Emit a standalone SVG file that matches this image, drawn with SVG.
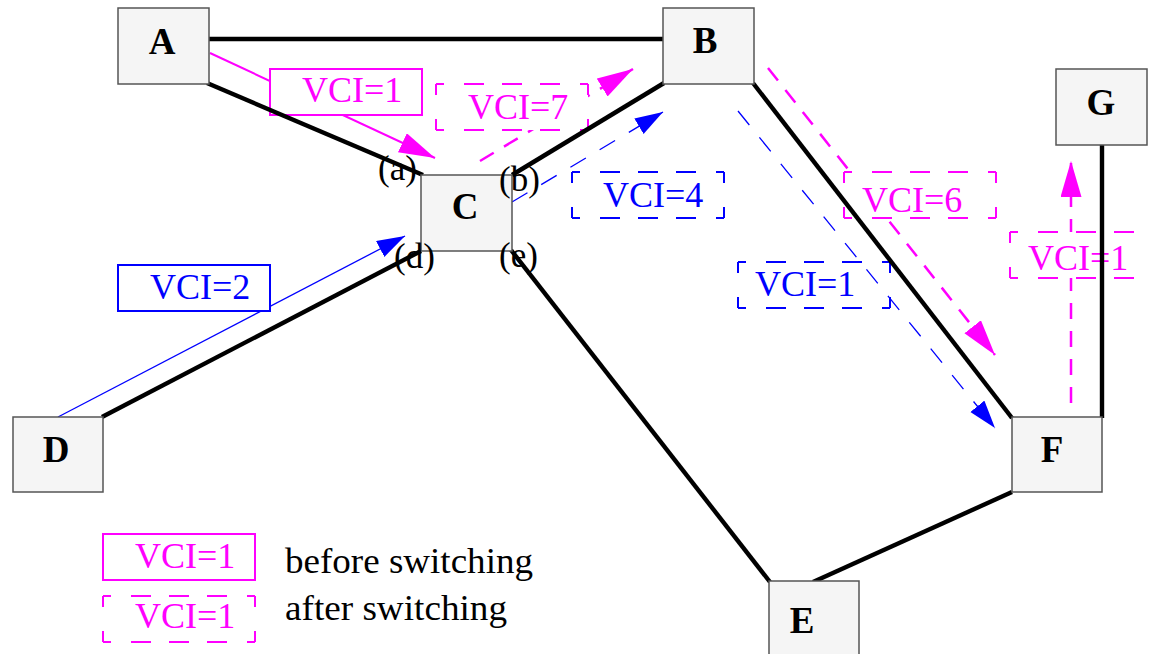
<svg xmlns="http://www.w3.org/2000/svg" xmlns:xlink="http://www.w3.org/1999/xlink" width="1153" height="654" viewBox="0 0 1153 654">
  <style>
    .node rect { fill: #f5f5f5; stroke: #555555; stroke-width: 1.5; }
    .node text { font-family: "Liberation Serif", "Times New Roman", serif; font-weight: bold; font-size: 37px; fill: #000; text-anchor: middle; }
    .link { fill: none; stroke: #000; stroke-width: 4.4; }
    .port { font-family: "Liberation Serif", "Times New Roman", serif; font-size: 35px; fill: #000; }
    .mag-solid { fill: none; stroke: #ff00ff; stroke-width: 2; marker-end: url(#ahMag); }
    .mag-dash { fill: none; stroke: #ff00ff; stroke-width: 2.5; stroke-dasharray: 16 12; marker-end: url(#ahMag); }
    .blue-solid { fill: none; stroke: #0000ff; stroke-width: 1.3; marker-end: url(#ahBlue); }
    .blue-dash { fill: none; stroke: #0000ff; stroke-width: 1.3; stroke-dasharray: 18 16; marker-end: url(#ahBlue); }
    .vci { font-family: "Liberation Serif", "Times New Roman", serif; font-size: 36px; }
    .mag { stroke: #ff00ff; fill: #ff00ff; }
    .blu { stroke: #0000ff; fill: #0000ff; }
    .box-solid { fill: #fff; stroke-width: 2; }
    .box-h { fill: none; stroke-width: 2; stroke-dasharray: 8 20 20 18 20 18 20 20 8 100; }
    .box-v { fill: none; stroke-width: 2; stroke-dasharray: 11 24 11 100; }
    .legend { font-family: "Liberation Serif", "Times New Roman", serif; font-size: 36px; fill: #000; }
  </style>
  <defs>
    <marker id="ahMag" markerUnits="userSpaceOnUse" markerWidth="40" markerHeight="24" refX="36" refY="10.5" orient="auto">
      <path d="M0,0 L36,10.5 L0,21 Z" fill="#ff00ff"/>
    </marker>
    <marker id="ahBlue" markerUnits="userSpaceOnUse" markerWidth="32" markerHeight="20" refX="28" refY="9" orient="auto">
      <path d="M0,0 L28,9 L0,18 Z" fill="#0000ff"/>
    </marker>
    <!-- dashed label frame, 152 x 46, corners carry a dash -->
    <g id="dashFrame">
      <rect width="152" height="46" fill="#fff" stroke="none"/>
      <path class="box-h" d="M0,0 H152 M0,46 H152"/>
      <path class="box-v" d="M0,0 V46 M152,0 V46"/>
    </g>
    <g id="dashFrameOpen">
      <path class="box-h" d="M0,0 H152 M0,46 H152"/>
      <path class="box-v" d="M0,0 V46 M152,0 V46"/>
    </g>
  </defs>

  <rect width="1153" height="654" fill="#fff"/>

  <!-- virtual circuit flows -->
  <g id="flows">
    <path class="mag-solid" d="M210,53 L435,158"/>
    <path class="mag-dash" d="M480,161 L633,69"/>
    <path class="blue-dash" d="M512,202 L663,112"/>
    <path class="blue-solid" d="M58,417 L405,236"/>
    <path class="mag-dash" d="M768,68 L995,355"/>
    <path class="blue-dash" d="M738,111 L995,428"/>
    <path class="mag-dash" d="M1071,403 L1071,161"/>
  </g>

  <!-- VCI labels -->
  <g id="vci-labels">
    <g id="vci-a">
      <rect class="box-solid mag" x="270" y="69" width="152" height="46" style="fill:#fff"/>
      <text class="vci" x="302" y="102" fill="#ff00ff">VCI=1</text>
    </g>
    <g id="vci-b-out">
      <use xlink:href="#dashFrame" x="436" y="84" stroke="#ff00ff"/>
      <text class="vci" x="468" y="119" fill="#ff00ff">VCI=7</text>
    </g>
    <g id="vci-b-blue">
      <use xlink:href="#dashFrame" x="572" y="172" stroke="#0000ff"/>
      <text class="vci" x="603" y="207" fill="#0000ff">VCI=4</text>
    </g>
    <g id="vci-d">
      <rect class="box-solid blu" x="118" y="265" width="152" height="46" style="fill:#fff"/>
      <text class="vci" x="150" y="299" fill="#0000ff">VCI=2</text>
    </g>
    <g id="vci-f-mag">
      <use xlink:href="#dashFrame" x="844" y="172" stroke="#ff00ff"/>
      <text class="vci" x="862" y="212" fill="#ff00ff">VCI=6</text>
    </g>
    <g id="vci-g">
      <use xlink:href="#dashFrame" x="1010" y="232" stroke="#ff00ff"/>
      <text class="vci" x="1028" y="270" fill="#ff00ff">VCI=1</text>
    </g>
    <g id="vci-f-blue">
      <use xlink:href="#dashFrameOpen" x="738" y="262" stroke="#0000ff"/>
      <text class="vci" x="755" y="296" fill="#0000ff">VCI=1</text>
    </g>
  </g>

  <!-- physical links -->
  <g id="connectors">
    <path class="link" d="M207,39 H665"/>
    <path class="link" d="M207,83 L423,175"/>
    <path class="link" d="M512,175 L664,83"/>
    <path class="link" d="M753,83 L1012,418"/>
    <path class="link" d="M1102,145 V418"/>
    <path class="link" d="M102,417 L421,251"/>
    <path class="link" d="M511,250 L770,582"/>
    <path class="link" d="M813,582 L1012,492"/>
  </g>

  <!-- switches / hosts -->
  <g id="node-A" class="node"><rect x="118" y="8" width="91" height="76"/><text x="162" y="54">A</text></g>
  <g id="node-B" class="node"><rect x="663" y="8" width="91" height="76"/><text x="705" y="53">B</text></g>
  <g id="node-C" class="node"><rect x="421" y="175" width="91" height="76"/><text x="465" y="219">C</text></g>
  <g id="node-D" class="node"><rect x="13" y="417" width="90" height="75"/><text x="56" y="462">D</text></g>
  <g id="node-E" class="node"><rect x="769" y="581" width="90" height="76"/><text x="802" y="633">E</text></g>
  <g id="node-F" class="node"><rect x="1012" y="417" width="90" height="75"/><text x="1052" y="462">F</text></g>
  <g id="node-G" class="node"><rect x="1056" y="69" width="91" height="76"/><text x="1101" y="115">G</text></g>

  <!-- port labels on switch C -->
  <g id="ports">
    <text class="port" x="378" y="180">(a)</text>
    <text class="port" x="499" y="191">(b)</text>
    <text class="port" x="394" y="268">(d)</text>
    <text class="port" x="499" y="267">(e)</text>
  </g>

  <!-- legend -->
  <g id="legend">
    <rect class="box-solid mag" x="103" y="534" width="152" height="46" style="fill:#fff"/>
    <text class="vci" x="135" y="568" fill="#ff00ff">VCI=1</text>
    <use xlink:href="#dashFrameOpen" x="103" y="596" stroke="#ff00ff"/>
    <text class="vci" x="135" y="628" fill="#ff00ff">VCI=1</text>
    <text class="legend" x="285" y="573" textLength="248" lengthAdjust="spacingAndGlyphs">before switching</text>
    <text class="legend" x="285" y="620" textLength="222" lengthAdjust="spacingAndGlyphs">after switching</text>
  </g>
</svg>
